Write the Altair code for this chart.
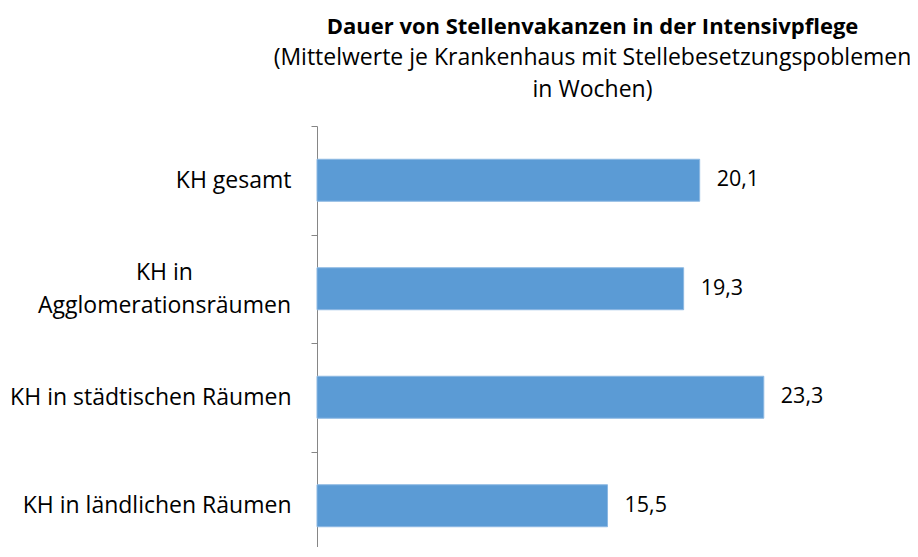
import altair as alt
import pandas as pd

categories = [
    "KH gesamt",
    "KH in Agglomerationsräumen",
    "KH in städtischen Räumen",
    "KH in ländlichen Räumen",
]
values = [20.1, 19.3, 23.3, 15.5]
axis_min = 1

title_text = "Dauer von Stellenvakanzen in der Intensivpflege"
subtitle_lines = [
    "(Mittelwerte je Krankenhaus mit Stellebesetzungspoblemen",
    "in Wochen)",
]

df = pd.DataFrame({"cat": categories, "val": values})

FONT = "Open Sans"
two_line = "KH in Agglomerationsräumen"
is_two = f"datum.value == '{two_line}'"

y_enc = alt.Y(
    "cat:N",
    sort=categories,
    title=None,
    scale=alt.Scale(paddingInner=0, paddingOuter=0, range=[0, 434]),
    axis=alt.Axis(
        grid=False,
        domainColor="#868686",
        domainWidth=1,
        ticks=True,
        tickColor="#868686",
        tickWidth=1,
        tickSize=6,
        tickBand="extent",
        labelFont=FONT,
        labelFontSize=23,
        labelColor="#000000",
        labelLineHeight=33,
        labelExpr=f"{is_two} ? ['KH in', 'Agglomerationsräumen'] : datum.value",
        labelAlign={"condition": {"test": is_two, "value": "center"}, "value": "right"},
        labelPadding={"condition": {"test": is_two, "value": 147}, "value": 20},
        labelOffset={"condition": {"test": is_two, "value": -16.5}, "value": 0},
        labelLimit=400,
    ),
)

x_enc = alt.X(
    "val:Q",
    title=None,
    scale=alt.Scale(domain=[axis_min, 29], zero=False, nice=False),
    axis=None,
)

bars = alt.Chart(df).mark_bar(
    color="#5B9BD5", stroke="#8CB8E2", strokeWidth=1, height=alt.RelativeBandSize(0.387)
).encode(y=y_enc, x=x_enc, x2=alt.datum(axis_min))

labels = (
    alt.Chart(df)
    .transform_calculate(lbl="replace(format(datum.val, '.1f'), '.', ',')")
    .mark_text(align="left", baseline="middle", dx=17, font=FONT, fontSize=21.5, color="#000000")
    .encode(y=alt.Y("cat:N", sort=categories), x=alt.X("val:Q"), text="lbl:N")
)

chart = (
    alt.layer(bars, labels)
    .properties(
        width=561,
        height=421,
        background="white",
        autosize=alt.AutoSizeParams(type="none"),
        padding={"left": 309, "top": 118, "right": 32, "bottom": 0},
        title=alt.TitleParams(
            text=title_text,
            subtitle=subtitle_lines,
            anchor="middle",
            frame="group",
            dx=-5,
            offset=12,
            font=FONT,
            fontSize=22,
            fontWeight="bold",
            color="#000000",
            subtitleFont=FONT,
            subtitleFontSize=23,
            subtitleColor="#000000",
            subtitleLineHeight=32,
            subtitlePadding=8,
        ),
    )
    .configure_view(stroke="transparent", strokeWidth=0)
)

chart.save("out.html", embed_options={"renderer": "svg", "actions": False})
